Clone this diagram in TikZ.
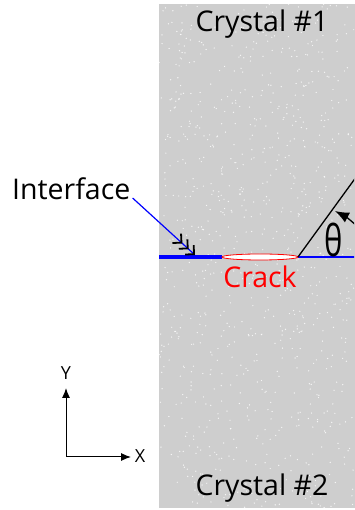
\documentclass[tikz,border=0pt]{standalone}
\usepackage{fontspec}
\setmainfont{Open Sans}
\usetikzlibrary{arrows.meta,calc}
\definecolor{crystalgrey}{RGB}{206,206,206}
\tikzset{
  lbl/.style={inner sep=0pt,font=\fontsize{28.5}{30}\selectfont},
  axlbl/.style={inner sep=0pt,font=\fontsize{18}{20}\selectfont},
  axisline/.style={line width=1pt,-{Latex[length=10pt,width=8pt]}},
  speck/.style={fill=white,opacity=0.8},
}
\begin{document}
\begin{tikzpicture}[x=1pt,y=1pt]
\useasboundingbox (0,0) rectangle (354,510);
% crystal block
\fill[crystalgrey] (159,2) rectangle (356,506);
\pgfmathsetseed{7}
\begin{scope}
\clip (159,2) rectangle (354,506);
\foreach \i in {1,...,900}{
  \pgfmathsetmacro{\px}{256.5+97.5*rand}
  \pgfmathsetmacro{\py}{254+252*rand}
  \fill[speck] (\px,\py) circle (0.7);
}
\end{scope}
% labels
\node[lbl,anchor=base] (c1) at (262,478) {Crystal \#1};
\node[lbl,anchor=base] (c2) at (262,14) {Crystal \#2};
\node[lbl,anchor=base,text=red] (crack) at (260,222) {Crack};
\node[lbl,anchor=base west] (iface) at (12,310) {Interface};
% interface and crack
\coordinate (ileft) at (159,253);
\begin{scope}
\clip (159,2) rectangle (354,506);
\coordinate (ctip) at (298,253);
\coordinate (cbase) at (222,253);
\coordinate (iright) at (356,253);
\draw[blue,line width=3.2pt] (ileft) -- (cbase);
\draw[blue,line width=1.4pt] (ctip) -- (iright);
\draw[red,fill=white,line width=0.8pt] (260,253) ellipse [x radius=38,y radius=3];
\coordinate (lineend) at ($(ctip)+(54:110)$);
\draw[black,line width=1.3pt] (ctip) -- (lineend);
\coordinate (arcstart) at (360,281);
\coordinate (arcend) at (335,299);
\draw[line width=1.3pt,-{Latex[length=14pt,width=11pt]}] (arcstart) to[bend right=8] (arcend);
\end{scope}
\node[inner sep=0pt] (theta) at (334,270) {\scalebox{1}[1.4]{\fontsize{31}{36}\selectfont θ}};
% interface pointer
\coordinate (ipt) at (195,255);
\draw[blue,line width=1.2pt,
  -{Straight Barb[black,angle=90:9pt,line width=1.8pt] Straight Barb[black,angle=90:9pt,line width=1.8pt] Straight Barb[black,angle=90:9pt,line width=1.8pt]}]
  ($(iface.base east)+(2,2)$) -- (ipt);
% axes
\coordinate (o) at (66,53);
\coordinate (ytip) at (66,122);
\coordinate (xtip) at (131,53);
\node[axlbl] (ylab) at (66,137) {Y};
\node[axlbl] (xlab) at (140,54) {X};
\draw[axisline] (o) -- (ytip);
\draw[axisline] (o) -- (xtip);
\end{tikzpicture}
\end{document}
